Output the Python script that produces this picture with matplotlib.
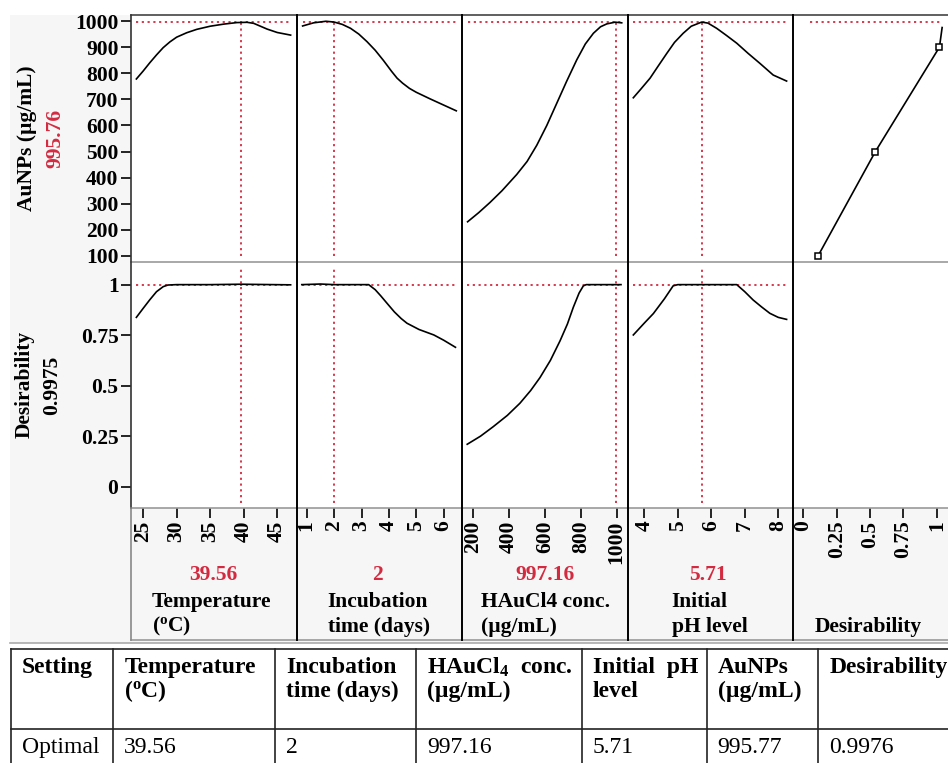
import matplotlib
matplotlib.use("Agg")
import matplotlib.pyplot as plt
from matplotlib.lines import Line2D
from matplotlib.patches import Rectangle

plt.rcParams['font.family'] = ['Liberation Serif', 'DejaVu Serif']
plt.rcParams['font.weight'] = 'bold'
plt.rcParams['mathtext.fontset'] = 'custom'
plt.rcParams['mathtext.rm'] = 'Liberation Serif:bold'
plt.rcParams['mathtext.it'] = 'Liberation Serif:bold'
plt.rcParams['mathtext.bf'] = 'Liberation Serif:bold'

# ---------------- data ----------------
factor_names = ["Temperature", "Incubation time", "HAuCl4 conc.", "Initial pH level"]
optimal_values = [39.56, 2, 997.16, 5.71]
optimal_labels = ["39.56", "2", "997.16", "5.71"]
pred_auc = 995.76
pred_des = 0.9975

temp_x = [24.0, 25.0, 26.0, 27.0, 28.0, 29.0, 30.0, 31.5, 33.0, 35.0, 37.0, 39.0, 40.5, 41.5, 42.5, 43.5, 45.0, 47.0]
temp_auc = [778, 808, 840, 870, 898, 920, 938, 955, 968, 980, 988, 994, 995, 991, 980, 969, 956, 946]
temp_dx = [24.0, 25.0, 26.0, 27.0, 28.0, 28.7, 30.0, 35.0, 39.56, 47.0]
temp_des = [0.838, 0.882, 0.925, 0.965, 0.990, 0.998, 1.0, 1.0, 1.002, 0.999]

inc_x = [0.85, 1.25, 1.7, 2.0, 2.3, 2.6, 2.9, 3.2, 3.5, 3.8, 4.1, 4.3, 4.5, 4.75, 5.0, 5.5, 6.0, 6.46]
inc_auc = [981, 993, 999, 996, 987, 972, 950, 921, 888, 849, 807, 781, 762, 742, 727, 702, 678, 656]
inc_dx = [0.82, 1.5, 2.0, 3.26, 3.5, 3.7, 3.93, 4.2, 4.45, 4.66, 5.1, 5.64, 6.0, 6.43]
inc_des = [1.0, 1.003, 1.0, 1.0, 0.975, 0.945, 0.908, 0.865, 0.832, 0.809, 0.778, 0.751, 0.725, 0.690]

hau_x = [168, 230, 293, 360, 442, 500, 554, 610, 665, 720, 777, 825, 870, 910, 945, 991, 1028]
hau_auc = [231, 266, 305, 350, 412, 462, 524, 600, 684, 768, 851, 912, 953, 978, 989, 995.5, 993]
hau_dx = [166, 240, 311, 390, 460, 520, 572, 630, 684, 725, 758, 790, 814, 830, 1024]
hau_des = [0.21, 0.25, 0.297, 0.353, 0.413, 0.476, 0.54, 0.625, 0.722, 0.805, 0.888, 0.958, 0.994, 1.0, 1.0]

ph_x = [3.67, 3.9, 4.17, 4.4, 4.67, 4.9, 5.16, 5.4, 5.71, 5.9, 6.16, 6.45, 6.76, 7.1, 7.45, 7.85, 8.25]
ph_auc = [706, 740, 781, 825, 876, 918, 953, 980, 995.8, 992, 972, 945, 915, 876, 838, 793, 770]
ph_dx = [3.67, 4.0, 4.27, 4.6, 4.86, 5.0, 5.71, 6.76, 7.0, 7.25, 7.5, 7.75, 8.0, 8.25]
ph_des = [0.751, 0.81, 0.857, 0.93, 0.994, 1.0, 1.0, 1.0, 0.965, 0.924, 0.89, 0.858, 0.838, 0.828]

dfun_d = [0.11, 0.54, 1.02, 1.04]
dfun_auc = [100, 500, 900, 975]

temp_ticks = [25, 30, 35, 40, 45]
inc_ticks = [1, 2, 3, 4, 5, 6]
hau_ticks = [200, 400, 600, 800, 1000]
ph_ticks = [4, 5, 6, 7, 8]
des_ticks = [0, 0.25, 0.5, 0.75, 1]
des_tick_labels = ["0", "0.25", "0.5", "0.75", "1"]
auc_ticks = [100, 200, 300, 400, 500, 600, 700, 800, 900, 1000]

table_header = ["Setting", "Temperature\n(${}^{\\mathrm{o}}$C)", "Incubation\ntime (days)",
                "HAuCl$_4$  conc.\n(\u00b5g/mL)", "Initial  pH\nlevel", "AuNPs\n(\u00b5g/mL)", "Desirability"]
table_row = ["Optimal", "39.56", "2", "997.16", "5.71", "995.77", "0.9976"]

# ---------------- layout ----------------
W, H = 948, 763
fig = plt.figure(figsize=(W / 100, H / 100), dpi=100)
fig.patch.set_facecolor("white")

def fx(x):
    return x / W

def fy(y):
    return 1 - y / H

RED = "#d42a40"
FS = 15.5

fig.add_artist(Rectangle((fx(10), fy(643)), fx(948) - fx(10), fy(15) - fy(643),
                         transform=fig.transFigure, facecolor="#f6f6f6", edgecolor="none", zorder=0))

col_edges = [131, 297, 462.3, 628.3, 793.3, 948]
row_edges = [15, 262, 508]
xlims = [(23.2, 47.95), (0.645, 6.68), (138.5, 1064.8), (3.52, 8.45), (-0.075, 1.084)]
ylims = [(77, 1023), (-0.1054, 1.112)]
xticks = [temp_ticks, inc_ticks, hau_ticks, ph_ticks, des_ticks]

top_curves = [(temp_x, temp_auc), (inc_x, inc_auc), (hau_x, hau_auc), (ph_x, ph_auc)]
bot_curves = [(temp_dx, temp_des), (inc_dx, inc_des), (hau_dx, hau_des), (ph_dx, ph_des)]

dot = (0, (1.2, 2.0))
for r in range(2):
    for c in range(5):
        x0, x1 = col_edges[c], col_edges[c + 1]
        y0, y1 = row_edges[r], row_edges[r + 1]
        ax = fig.add_axes([fx(x0), fy(y1), fx(x1) - fx(x0), fy(y0) - fy(y1)])
        ax.set_facecolor("white")
        ax.set_xlim(*xlims[c])
        ax.set_ylim(*ylims[r])
        for s in ax.spines.values():
            s.set_visible(False)
        ax.tick_params(which="both", direction="out", length=7, width=1.2, color="black",
                       labelsize=FS, pad=2)
        if c == 0:
            if r == 0:
                ax.set_yticks(auc_ticks)
                ax.set_yticklabels([str(t) for t in auc_ticks])
            else:
                ax.set_yticks(des_ticks)
                ax.set_yticklabels(des_tick_labels)
        else:
            ax.tick_params(axis="y", left=False, labelleft=False)
        if r == 1:
            ax.set_xticks(xticks[c])
            if c == 4:
                ax.set_xticklabels(des_tick_labels)
            else:
                ax.set_xticklabels([str(t) for t in xticks[c]])
            ax.tick_params(axis="x", labelrotation=90, pad=2)
        else:
            ax.tick_params(axis="x", bottom=False, labelbottom=False)

        if c < 4:
            cx, cy = (top_curves if r == 0 else bot_curves)[c]
            ax.plot(cx, cy, color="black", lw=1.2, zorder=3, solid_joinstyle="round")
            if r == 0:
                ax.hlines(pred_auc, cx[0], cx[-1], colors=RED, linestyles=dot, lw=1.3, zorder=2)
                ax.vlines(optimal_values[c], 100, pred_auc, colors=RED, linestyles=dot, lw=1.3, zorder=2)
            else:
                ax.hlines(pred_des, cx[0], cx[-1], colors=RED, linestyles=dot, lw=1.3, zorder=2)
                ax.vlines(optimal_values[c], -0.08, 1.08, colors=RED, linestyles=dot, lw=1.3, zorder=2)
        elif r == 0:
            ax.plot(dfun_d, dfun_auc, color="black", lw=1.2, zorder=3)
            ax.plot(dfun_d[:3], dfun_auc[:3], linestyle="none", marker="s", ms=5,
                    mfc="white", mec="black", mew=1.1, zorder=4)
            ax.hlines(pred_auc, 0.05, 1.03, colors=RED, linestyles=dot, lw=1.3, zorder=2)

# frame lines
def fline(xs, ys, color="black", lw=1.2):
    fig.add_artist(Line2D([fx(x) for x in xs], [fy(y) for y in ys], transform=fig.transFigure,
                          color=color, lw=lw, zorder=10))

fline([131, 948], [15, 15], color="#444444")
fline([131, 948], [262, 262], color="#999999")
fline([131, 948], [508, 508], color="#999999")
fline([131, 948], [640, 640], color="#999999")
fline([10, 948], [643, 643], color="#aaaaaa")
fline([131, 131], [15, 508], color="#333333")
fline([131, 131], [508, 640], color="#888888")
for xe in col_edges[1:5]:
    fline([xe, xe], [15, 640], color="black", lw=1.4)

# y labels
fig.text(fx(27), fy(138.5), "AuNPs (\u00b5g/mL)", rotation=90, ha="center", va="center", fontsize=FS)
fig.text(fx(55), fy(138.5), f"{pred_auc:.2f}", rotation=90, ha="center", va="center", fontsize=FS, color=RED)
fig.text(fx(25), fy(384), "Desirability", rotation=90, ha="center", va="center", fontsize=FS)
fig.text(fx(52), fy(385), f"{pred_des:.4f}", rotation=90, ha="center", va="center", fontsize=FS)

# factor labels
val_cx = [213, 377.7, 545, 708.3]
name_lines = [["Temperature", "(${}^{\\mathrm{o}}$C)"], ["Incubation", "time (days)"],
              ["HAuCl4 conc.", "(\u00b5g/mL)"], ["Initial", "pH level"]]
name_left = [151.7, 327.7, 480.7, 671.7]
for i in range(4):
    fig.text(fx(val_cx[i]), fy(575), optimal_labels[i], ha="center", va="center", fontsize=FS, color=RED)
    fig.text(fx(name_left[i]), fy(601.7), name_lines[i][0], ha="left", va="center", fontsize=FS)
    fig.text(fx(name_left[i]), fy(626.7), name_lines[i][1], ha="left", va="center", fontsize=FS)
fig.text(fx(868.3), fy(626.7), "Desirability", ha="center", va="center", fontsize=FS)

# table
tcols = [11, 113.3, 275, 416, 581.7, 706.7, 818.3]
for xc in tcols:
    fline([xc, xc], [649, 765], color="#222222", lw=1.2)
fline([11, 948], [649, 649], color="#222222", lw=1.2)
fline([11, 948], [729, 729], color="#222222", lw=1.2)
TFS = 17
for i, xc in enumerate(tcols):
    lines = table_header[i].split("\n")
    for j, ln in enumerate(lines):
        fig.text(fx(xc + 11), fy(673.3 + 23.4 * j), ln, ha="left", va="baseline",
                 fontsize=TFS, fontweight="bold")
    fig.text(fx(xc + 11), fy(752.7), table_row[i], ha="left", va="baseline",
             fontsize=TFS, fontweight="normal")

fig.savefig("out.png", dpi=100, facecolor="white")
